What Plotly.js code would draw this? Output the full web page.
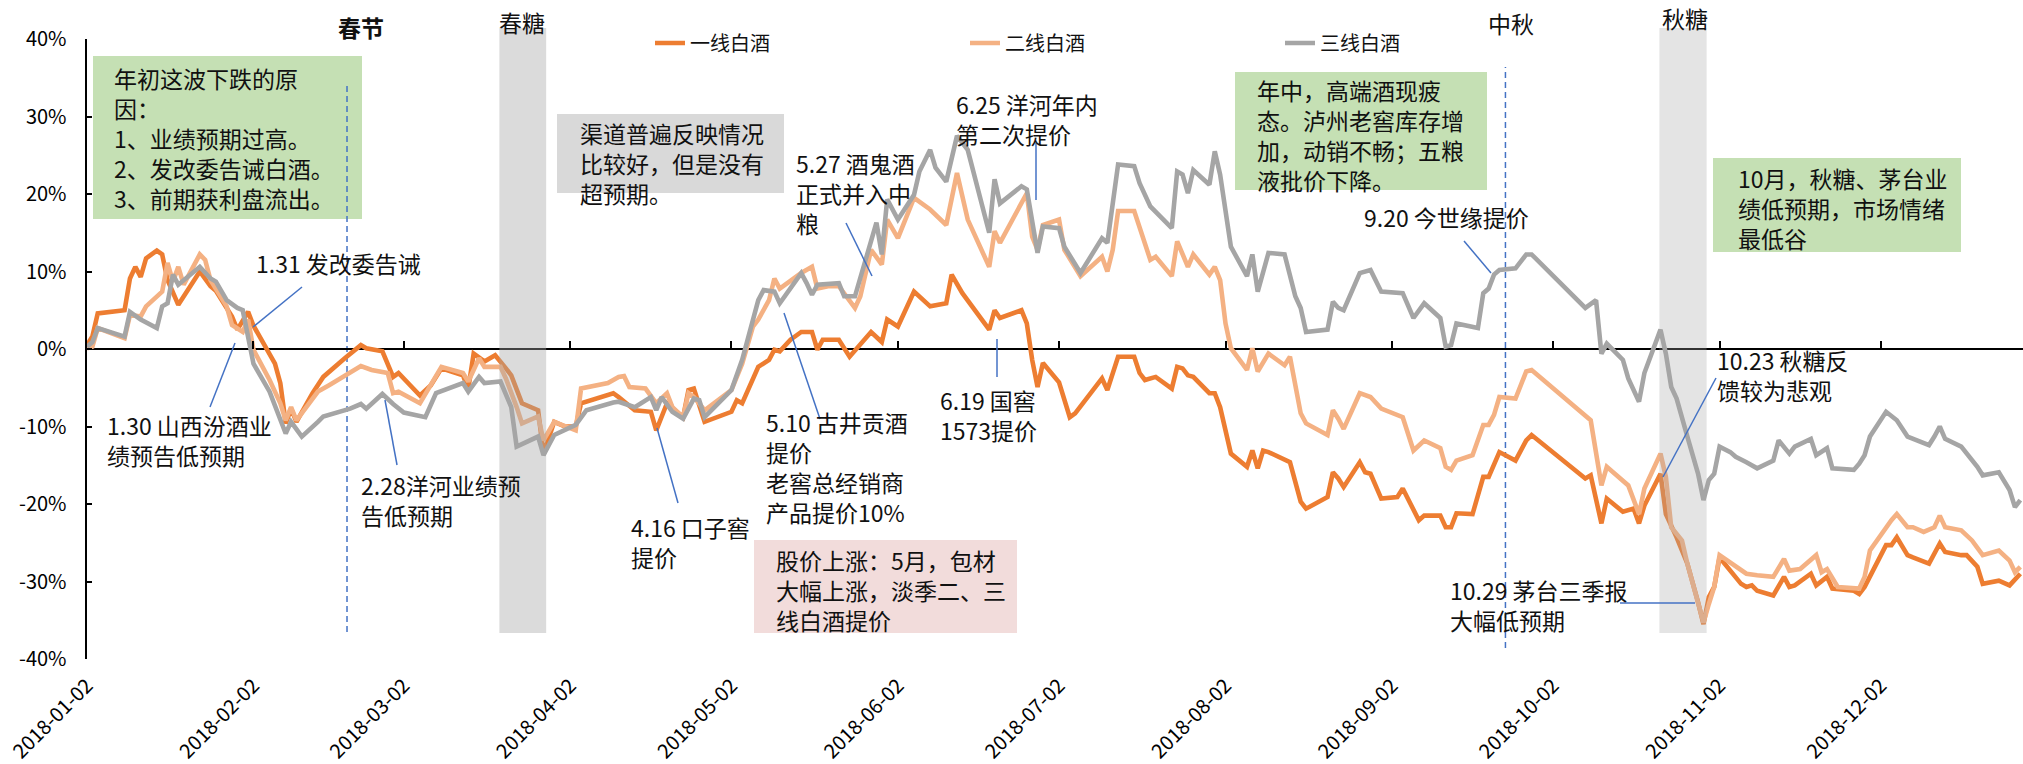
<!DOCTYPE html>
<html>
<head>
<meta charset="utf-8">
<script src="https://cdn.plot.ly/plotly-3.0.1.min.js"></script>
<style>
  html, body { margin: 0; padding: 0; background: #fff; }
  #chart { width: 2023px; height: 764px; }
</style>
</head>
<body>
<div id="chart"></div>
<script>
// series names
const seriesNames = ['一线白酒', '二线白酒', '三线白酒'];

// 一线白酒 (cumulative return, %)
const t1Dates = ['2018-01-02','2018-01-03','2018-01-04','2018-01-09','2018-01-10','2018-01-11','2018-01-12','2018-01-13','2018-01-15','2018-01-16','2018-01-17','2018-01-19','2018-01-23','2018-01-25','2018-01-26','2018-01-29','2018-01-30','2018-02-01','2018-02-02','2018-02-05','2018-02-06','2018-02-07','2018-02-08','2018-02-09','2018-02-10','2018-02-13','2018-02-15','2018-02-19','2018-02-22','2018-02-23','2018-02-26','2018-02-28','2018-03-01','2018-03-05','2018-03-07','2018-03-09','2018-03-13','2018-03-14','2018-03-15','2018-03-17','2018-03-19','2018-03-21','2018-03-22','2018-03-24','2018-03-27','2018-03-28','2018-03-30','2018-04-01','2018-04-03','2018-04-04','2018-04-10','2018-04-11','2018-04-14','2018-04-17','2018-04-18','2018-04-20','2018-04-23','2018-04-24','2018-04-25','2018-04-27','2018-05-02','2018-05-03','2018-05-04','2018-05-07','2018-05-09','2018-05-10','2018-05-11','2018-05-13','2018-05-15','2018-05-17','2018-05-18','2018-05-19','2018-05-22','2018-05-24','2018-05-28','2018-05-30','2018-05-31','2018-06-02','2018-06-05','2018-06-08','2018-06-11','2018-06-12','2018-06-14','2018-06-19','2018-06-20','2018-06-21','2018-06-25','2018-06-26','2018-06-27','2018-06-28','2018-06-29','2018-07-02','2018-07-04','2018-07-05','2018-07-10','2018-07-11','2018-07-13','2018-07-16','2018-07-17','2018-07-18','2018-07-20','2018-07-23','2018-07-24','2018-07-25','2018-07-26','2018-07-27','2018-07-30','2018-07-31','2018-08-01','2018-08-03','2018-08-04','2018-08-06','2018-08-07','2018-08-08','2018-08-09','2018-08-10','2018-08-14','2018-08-16','2018-08-17','2018-08-21','2018-08-22','2018-08-23','2018-08-24','2018-08-27','2018-08-28','2018-08-29','2018-08-31','2018-09-03','2018-09-04','2018-09-07','2018-09-08','2018-09-11','2018-09-12','2018-09-13','2018-09-14','2018-09-17','2018-09-19','2018-09-20','2018-09-22','2018-09-25','2018-09-27','2018-09-28','2018-10-08','2018-10-09','2018-10-11','2018-10-12','2018-10-15','2018-10-17','2018-10-18','2018-10-19','2018-10-22','2018-10-23','2018-10-25','2018-10-27','2018-10-29','2018-10-30','2018-10-31','2018-11-01','2018-11-02','2018-11-05','2018-11-06','2018-11-07','2018-11-08','2018-11-09','2018-11-12','2018-11-14','2018-11-15','2018-11-16','2018-11-19','2018-11-20','2018-11-22','2018-11-23','2018-11-27','2018-11-28','2018-11-29','2018-12-03','2018-12-04','2018-12-05','2018-12-07','2018-12-08','2018-12-11','2018-12-13','2018-12-14','2018-12-17','2018-12-18','2018-12-20','2018-12-21','2018-12-24','2018-12-26','2018-12-28'];
const t1Values = [0.5,1.6,4.6,5.0,9.1,10.6,9.3,11.7,12.7,12.2,8.9,5.7,10.0,8.1,7.5,4.2,2.5,4.8,3.0,-0.5,-1.9,-4.4,-9.6,-7.7,-9.4,-5.7,-3.6,-1.2,0.5,0.1,-0.3,-3.6,-3.1,-6.0,-4.7,-2.5,-3.4,-5.1,-0.6,-1.6,-0.8,-2.5,-3.4,-7.0,-7.9,-13.5,-9.4,-10.0,-10.0,-7.0,-5.7,-6.2,-7.9,-8.1,-10.5,-7.0,-8.8,-5.3,-5.1,-9.4,-8.1,-6.6,-7.0,-2.3,-1.4,-0.1,-0.3,1.2,2.2,2.2,-0.1,1.2,1.2,-1.0,2.2,0.9,3.8,2.9,7.4,5.5,5.9,9.6,7.2,2.5,5.0,4.0,5.0,3.3,-1.4,-4.9,-1.8,-4.3,-8.8,-8.3,-3.8,-5.3,-1.0,-1.0,-3.1,-4.0,-3.6,-5.1,-2.3,-2.5,-3.4,-3.6,-5.7,-5.7,-7.5,-13.5,-14.1,-15.2,-13.1,-15.4,-13.1,-13.3,-14.6,-19.7,-20.6,-19.1,-15.9,-16.7,-17.8,-14.6,-15.9,-16.1,-19.3,-19.1,-18.0,-22.1,-21.5,-21.5,-23.0,-23.0,-21.2,-21.3,-16.5,-16.5,-13.3,-14.4,-11.8,-11.1,-16.7,-16.3,-22.5,-19.3,-21.0,-20.6,-22.5,-20.2,-16.1,-21.3,-24.3,-27.7,-32.7,-35.5,-32.0,-30.7,-26.9,-29.3,-30.3,-30.7,-30.5,-31.2,-31.8,-29.4,-30.7,-30.5,-29.0,-30.5,-29.4,-30.9,-31.2,-31.6,-30.7,-25.3,-25.3,-24.3,-26.6,-26.9,-27.7,-25.1,-26.2,-26.6,-26.6,-28.1,-30.3,-29.9,-30.5,-29.0];

// 二线白酒
const t2Dates = ['2018-01-02','2018-01-03','2018-01-04','2018-01-09','2018-01-10','2018-01-12','2018-01-13','2018-01-16','2018-01-17','2018-01-18','2018-01-19','2018-01-20','2018-01-23','2018-01-24','2018-01-25','2018-01-26','2018-01-28','2018-01-29','2018-01-31','2018-02-01','2018-02-02','2018-02-05','2018-02-07','2018-02-08','2018-02-09','2018-02-10','2018-02-14','2018-02-16','2018-02-19','2018-02-22','2018-02-24','2018-02-27','2018-02-28','2018-03-01','2018-03-05','2018-03-07','2018-03-09','2018-03-13','2018-03-14','2018-03-16','2018-03-17','2018-03-20','2018-03-21','2018-03-23','2018-03-24','2018-03-27','2018-03-28','2018-03-30','2018-04-03','2018-04-04','2018-04-09','2018-04-11','2018-04-12','2018-04-13','2018-04-16','2018-04-18','2018-04-20','2018-04-21','2018-04-23','2018-04-24','2018-04-25','2018-04-27','2018-05-02','2018-05-04','2018-05-06','2018-05-07','2018-05-09','2018-05-10','2018-05-11','2018-05-15','2018-05-17','2018-05-18','2018-05-20','2018-05-22','2018-05-25','2018-05-26','2018-05-28','2018-05-30','2018-05-31','2018-06-02','2018-06-05','2018-06-08','2018-06-11','2018-06-13','2018-06-15','2018-06-19','2018-06-20','2018-06-21','2018-06-26','2018-06-27','2018-06-28','2018-06-29','2018-07-02','2018-07-03','2018-07-06','2018-07-10','2018-07-11','2018-07-12','2018-07-13','2018-07-16','2018-07-17','2018-07-19','2018-07-20','2018-07-23','2018-07-24','2018-07-26','2018-07-27','2018-07-30','2018-07-31','2018-08-01','2018-08-02','2018-08-03','2018-08-06','2018-08-07','2018-08-08','2018-08-10','2018-08-13','2018-08-14','2018-08-16','2018-08-17','2018-08-21','2018-08-22','2018-08-23','2018-08-24','2018-08-27','2018-08-29','2018-08-31','2018-09-04','2018-09-06','2018-09-08','2018-09-11','2018-09-12','2018-09-13','2018-09-14','2018-09-17','2018-09-19','2018-09-20','2018-09-21','2018-09-22','2018-09-25','2018-09-27','2018-09-28','2018-10-09','2018-10-11','2018-10-12','2018-10-16','2018-10-18','2018-10-19','2018-10-22','2018-10-23','2018-10-24','2018-10-26','2018-10-27','2018-10-29','2018-10-30','2018-10-31','2018-11-01','2018-11-02','2018-11-05','2018-11-07','2018-11-09','2018-11-12','2018-11-14','2018-11-15','2018-11-17','2018-11-20','2018-11-21','2018-11-22','2018-11-24','2018-11-28','2018-11-29','2018-11-30','2018-12-04','2018-12-05','2018-12-07','2018-12-08','2018-12-10','2018-12-12','2018-12-13','2018-12-14','2018-12-17','2018-12-19','2018-12-21','2018-12-24','2018-12-26','2018-12-27','2018-12-28'];
const t2Values = [0.1,0.3,2.7,1.4,4.4,4.2,5.5,7.4,11.1,8.7,10.6,8.3,12.2,11.5,8.9,7.8,5.5,3.1,2.2,3.8,-0.1,-4.0,-7.0,-9.2,-7.5,-9.2,-5.5,-4.7,-3.4,-2.2,-2.7,-3.1,-5.7,-5.5,-7.0,-4.5,-2.3,-3.1,-4.2,-1.2,-2.3,-2.3,-3.8,-7.5,-9.6,-8.7,-11.8,-9.4,-10.5,-5.1,-4.4,-3.6,-3.5,-4.9,-5.1,-7.0,-5.7,-7.5,-8.8,-5.7,-6.2,-7.9,-5.3,-1.9,2.9,3.8,6.3,9.1,7.8,9.8,10.6,7.8,8.1,8.1,5.3,6.8,12.8,10.9,16.7,14.3,19.5,18.0,16.0,22.7,16.7,10.6,15.2,13.7,20.1,14.5,12.8,16.0,16.7,12.8,9.4,11.9,10.0,12.8,17.8,17.8,15.6,11.5,11.9,9.4,13.9,10.6,12.2,9.6,10.6,8.9,3.3,0.1,-2.7,0.1,-2.9,-0.6,-2.1,-1.0,-8.3,-9.6,-11.1,-7.9,-9.0,-10.3,-5.7,-6.2,-7.7,-8.8,-13.1,-11.8,-12.8,-15.2,-15.6,-14.4,-13.7,-9.8,-9.8,-8.5,-6.2,-6.4,-2.9,-2.7,-9.2,-17.6,-15.2,-17.6,-21.3,-18.0,-13.5,-16.5,-23.0,-24.7,-27.7,-32.5,-35.3,-32.9,-30.7,-26.6,-28.1,-29.0,-29.2,-29.4,-27.1,-28.6,-28.4,-26.6,-28.8,-28.4,-30.7,-30.9,-29.4,-26.0,-22.1,-21.3,-23.0,-23.0,-23.6,-23.0,-21.5,-23.0,-23.4,-24.7,-26.6,-26.0,-27.3,-28.8,-28.1];

// 三线白酒
const t3Dates = ['2018-01-02','2018-01-03','2018-01-04','2018-01-09','2018-01-10','2018-01-12','2018-01-15','2018-01-16','2018-01-17','2018-01-18','2018-01-19','2018-01-23','2018-01-25','2018-01-26','2018-01-28','2018-01-30','2018-01-31','2018-02-02','2018-02-05','2018-02-08','2018-02-09','2018-02-11','2018-02-14','2018-02-15','2018-02-20','2018-02-22','2018-02-23','2018-02-26','2018-02-28','2018-03-02','2018-03-06','2018-03-08','2018-03-13','2018-03-14','2018-03-16','2018-03-17','2018-03-20','2018-03-21','2018-03-22','2018-03-23','2018-03-27','2018-03-28','2018-03-30','2018-04-03','2018-04-05','2018-04-10','2018-04-11','2018-04-14','2018-04-17','2018-04-18','2018-04-19','2018-04-21','2018-04-23','2018-04-25','2018-04-26','2018-04-27','2018-05-02','2018-05-04','2018-05-07','2018-05-08','2018-05-10','2018-05-11','2018-05-15','2018-05-16','2018-05-17','2018-05-18','2018-05-22','2018-05-23','2018-05-25','2018-05-29','2018-05-30','2018-05-31','2018-06-02','2018-06-05','2018-06-06','2018-06-08','2018-06-09','2018-06-11','2018-06-13','2018-06-15','2018-06-19','2018-06-20','2018-06-21','2018-06-25','2018-06-26','2018-06-28','2018-06-29','2018-07-02','2018-07-03','2018-07-06','2018-07-10','2018-07-11','2018-07-13','2018-07-16','2018-07-17','2018-07-19','2018-07-23','2018-07-24','2018-07-25','2018-07-26','2018-07-27','2018-07-30','2018-07-31','2018-08-01','2018-08-03','2018-08-06','2018-08-07','2018-08-08','2018-08-10','2018-08-13','2018-08-15','2018-08-16','2018-08-17','2018-08-21','2018-08-22','2018-08-23','2018-08-24','2018-08-27','2018-08-29','2018-08-31','2018-09-04','2018-09-06','2018-09-08','2018-09-11','2018-09-12','2018-09-13','2018-09-14','2018-09-18','2018-09-19','2018-09-20','2018-09-21','2018-09-22','2018-09-25','2018-09-27','2018-09-28','2018-10-08','2018-10-10','2018-10-11','2018-10-12','2018-10-15','2018-10-16','2018-10-18','2018-10-19','2018-10-22','2018-10-23','2018-10-24','2018-10-25','2018-10-27','2018-10-29','2018-10-30','2018-10-31','2018-11-01','2018-11-02','2018-11-04','2018-11-05','2018-11-07','2018-11-09','2018-11-12','2018-11-13','2018-11-15','2018-11-16','2018-11-19','2018-11-20','2018-11-22','2018-11-23','2018-11-27','2018-11-28','2018-11-29','2018-11-30','2018-12-03','2018-12-05','2018-12-07','2018-12-11','2018-12-12','2018-12-13','2018-12-14','2018-12-17','2018-12-20','2018-12-21','2018-12-24','2018-12-26','2018-12-27','2018-12-28'];
const t3Values = [0.3,0.9,2.7,1.6,4.8,3.8,2.7,5.5,5.9,9.6,8.3,10.6,9.1,8.7,6.3,5.3,5.0,-1.9,-5.5,-10.9,-9.4,-11.3,-9.4,-8.7,-7.7,-7.1,-7.7,-5.8,-7.1,-8.2,-8.8,-5.7,-4.4,-5.5,-3.6,-4.4,-4.2,-5.7,-7.5,-12.6,-11.3,-13.7,-11.1,-9.8,-7.9,-6.9,-6.8,-7.5,-6.2,-7.9,-6.2,-8.1,-9.0,-6.4,-6.6,-8.8,-5.3,-1.4,6.3,7.6,7.4,5.9,9.8,8.5,7.0,8.3,8.5,6.8,6.8,16.3,12.2,19.3,16.7,19.9,22.9,25.7,23.4,21.6,27.5,25.7,15.0,21.9,18.8,21.0,20.6,12.4,15.8,15.6,13.2,9.8,14.3,13.7,23.8,23.6,21.4,18.4,15.6,22.9,22.5,20.1,23.1,21.2,25.5,22.5,13.2,9.4,12.2,7.4,12.4,12.2,6.8,5.3,2.2,2.5,6.1,5.3,5.0,9.8,10.2,7.4,7.2,4.0,5.9,4.0,0.3,0.5,3.3,2.7,7.2,7.8,9.6,10.2,10.4,12.2,12.2,5.3,6.3,-0.6,0.7,-1.4,-3.8,-6.8,-3.1,2.5,-0.6,-4.9,-6.4,-11.3,-16.1,-19.5,-16.9,-16.1,-12.6,-13.3,-13.9,-14.6,-15.4,-14.4,-11.8,-13.5,-12.6,-11.6,-13.7,-12.8,-15.4,-15.6,-14.8,-13.7,-11.3,-8.1,-9.2,-11.3,-12.4,-11.3,-10.0,-11.6,-12.6,-15.2,-16.3,-15.9,-18.2,-20.4,-19.5];

// axis ticks
const monthTicks = ['2018-01-02','2018-02-02','2018-03-02','2018-04-02','2018-05-02','2018-06-02','2018-07-02','2018-08-02','2018-09-02','2018-10-02','2018-11-02','2018-12-02'];
const yTicks = [-40, -30, -20, -10, 0, 10, 20, 30, 40];
const yTickText = ['-40%', '-30%', '-20%', '-10%', '0%', '10%', '20%', '30%', '40%'];

// events
const fairNames = ['春糖', '秋糖'];
const fairStart = ['2018-03-19 19:00', '2018-10-21 19:00'];
const fairEnd = ['2018-03-28 12:00', '2018-10-30 14:00'];
const holidayNames = ['春节', '中秋'];
const holidayDates = ['2018-02-19 10:00', '2018-09-23 03:00'];

const FONT = '"Noto Sans CJK SC", "Noto Sans", sans-serif';
const L = 87, R = 2023, T = 39, B = 659;
const px = x => (x - L) / (R - L);
const py = y => (B - y) / (B - T);

const colors = ['#ED7D31', '#F4B183', '#A5A5A5'];
const allDates = [t1Dates, t2Dates, t3Dates];
const allValues = [t1Values, t2Values, t3Values];

const data = seriesNames.map((name, i) => ({
  x: allDates[i],
  y: allValues[i],
  name: name,
  type: 'scatter',
  mode: 'lines',
  line: { color: colors[i], width: 4.6 },
  hoverinfo: 'skip'
}));
// carrier for the tick marks on the zero line
data.push({ x: [], y: [], xaxis: 'x2', yaxis: 'y', showlegend: false, hoverinfo: 'skip', type: 'scatter' });

const shapes = [];
// text boxes
const boxes = [
  [93, 56, 362, 219, '#C5E0B4'],
  [557, 114, 784, 193, '#D9D9D9'],
  [1235, 72, 1487, 190, '#C5E0B4'],
  [1713, 158, 1961, 252, '#C5E0B4'],
  [754, 540, 1017, 633, '#F2DCDB']
];
boxes.forEach(b => shapes.push({
  type: 'rect', xref: 'paper', yref: 'paper', layer: 'below',
  x0: px(b[0]), x1: px(b[2]), y0: py(b[3]), y1: py(b[1]),
  fillcolor: b[4], line: { width: 0 }
}));
// fair bands
const bandAlpha = [0.4, 0.3];
fairNames.forEach((n, i) => shapes.push({
  type: 'rect', xref: 'x', yref: 'paper', layer: 'above',
  x0: fairStart[i], x1: fairEnd[i], y0: py(633), y1: py(28),
  fillcolor: 'rgba(166,166,166,' + bandAlpha[i] + ')', line: { width: 0 }
}));
// holiday dashed lines
const holidaySpan = [[85, 632], [67, 648]];
holidayNames.forEach((n, i) => shapes.push({
  type: 'line', xref: 'x', yref: 'paper', layer: 'below',
  x0: holidayDates[i], x1: holidayDates[i], y0: py(holidaySpan[i][1]), y1: py(holidaySpan[i][0]),
  line: { color: '#4472C4', width: 1.5, dash: '6px,4px' }
}));
// leader lines
const leaders = [
  [302, 287, 253, 327], [235, 343, 210, 407], [385, 400, 397, 465], [657, 428, 678, 503],
  [784, 313, 820, 419], [846, 223, 872, 276], [1036, 143, 1036, 200], [997, 339, 997, 377],
  [1464, 241, 1491, 273], [1716, 378, 1663, 477], [1620, 603, 1695, 603]
];
leaders.forEach(l => shapes.push({
  type: 'line', xref: 'paper', yref: 'paper', layer: 'above',
  x0: px(l[0]), y0: py(l[1]), x1: px(l[2]), y1: py(l[3]),
  line: { color: '#4472C4', width: 1.5 }
}));

const notes = [
  { t: '年初这波下跌的原<br>因：<br>1、业绩预期过高。<br>2、发改委告诫白酒。<br>3、前期获利盘流出。', x: 112, y: 138 },
  { t: '渠道普遍反映情况<br>比较好，但是没有<br>超预期。', x: 578, y: 163 },
  { t: '年中，高端酒现疲<br>态。泸州老窖库存增<br>加，动销不畅；五粮<br>液批价下降。', x: 1255, y: 135 },
  { t: '10月，秋糖、茅台业<br>绩低预期，市场情绪<br>最低谷', x: 1736, y: 208 },
  { t: '股价上涨：5月，包材<br>大幅上涨，淡季二、三<br>线白酒提价', x: 774, y: 590 },
  { t: '1.31 发改委告诫', x: 254, y: 263 },
  { t: '1.30 山西汾酒业<br>绩预告低预期', x: 105, y: 440 },
  { t: '2.28洋河业绩预<br>告低预期', x: 359, y: 500 },
  { t: '4.16 口子窖<br>提价', x: 629, y: 542 },
  { t: '5.10 古井贡酒<br>提价<br>老窖总经销商<br>产品提价10%', x: 764, y: 467 },
  { t: '5.27 酒鬼酒<br>正式并入中<br>粮', x: 794, y: 193 },
  { t: '6.25 洋河年内<br>第二次提价', x: 954, y: 119 },
  { t: '6.19 国窖<br>1573提价', x: 938, y: 415 },
  { t: '9.20 今世缘提价', x: 1362, y: 217 },
  { t: '10.23 秋糖反<br>馈较为悲观', x: 1715, y: 375 },
  { t: '10.29 茅台三季报<br>大幅低预期', x: 1448, y: 605 }
];
const annotations = notes.map(n => ({
  xref: 'paper', yref: 'paper', x: px(n.x), y: py(n.y),
  xanchor: 'left', yanchor: 'middle', align: 'left', showarrow: false,
  text: n.t, font: { family: FONT, size: 23, color: '#111' }
}));
const eventLabels = [
  { t: '<b>春节</b>', x: 361, y: 27 },
  { t: '春糖', x: 522, y: 22 },
  { t: '中秋', x: 1511, y: 23 },
  { t: '秋糖', x: 1685, y: 18 }
];
eventLabels.forEach(e => annotations.push({
  xref: 'paper', yref: 'paper', x: px(e.x), y: py(e.y),
  xanchor: 'center', yanchor: 'middle', showarrow: false,
  text: e.t, font: { family: FONT, size: 23, color: '#111' }
}));

const layout = {
  width: 2023,
  height: 764,
  margin: { l: L, r: 2023 - R, t: T, b: 764 - B },
  paper_bgcolor: '#fff',
  plot_bgcolor: 'rgba(0,0,0,0)',
  font: { family: FONT, size: 20, color: '#000' },
  showlegend: true,
  legend: {
    orientation: 'h', x: px(650), y: py(43), xanchor: 'left', yanchor: 'middle',
    font: { family: FONT, size: 20, color: '#111' },
    bgcolor: 'rgba(0,0,0,0)', entrywidth: 270, entrywidthmode: 'pixels'
  },
  xaxis: {
    type: 'date',
    range: ['2018-01-02', '2018-12-28 12:00'],
    tickvals: monthTicks,
    ticktext: monthTicks,
    tickangle: -45,
    tickfont: { family: FONT, size: 20, color: '#000' },
    ticks: '',
    showline: false,
    showgrid: false,
    zeroline: false,
    ticklabelstandoff: 10,
    automargin: false
  },
  xaxis2: {
    type: 'date',
    overlaying: 'x',
    anchor: 'free',
    position: 0.5,
    side: 'bottom',
    range: ['2018-01-02', '2018-12-28 12:00'],
    tickvals: monthTicks,
    showticklabels: false,
    ticks: 'inside',
    ticklen: 8,
    tickwidth: 2,
    tickcolor: '#000',
    showline: false,
    showgrid: false,
    zeroline: false
  },
  yaxis: {
    range: [-40, 40],
    tickvals: yTicks,
    ticktext: yTickText,
    tickfont: { family: FONT, size: 20, color: '#000' },
    ticks: 'inside',
    ticklen: 5,
    tickwidth: 2,
    tickcolor: '#000',
    showline: true,
    linecolor: '#000',
    linewidth: 2.5,
    showgrid: false,
    zeroline: true,
    zerolinecolor: '#000',
    zerolinewidth: 2.5,
    ticklabelstandoff: 14,
    automargin: false
  },
  shapes: shapes,
  annotations: annotations
};

Plotly.newPlot('chart', data, layout, { staticPlot: true, displayModeBar: false });
</script>
</body>
</html>
